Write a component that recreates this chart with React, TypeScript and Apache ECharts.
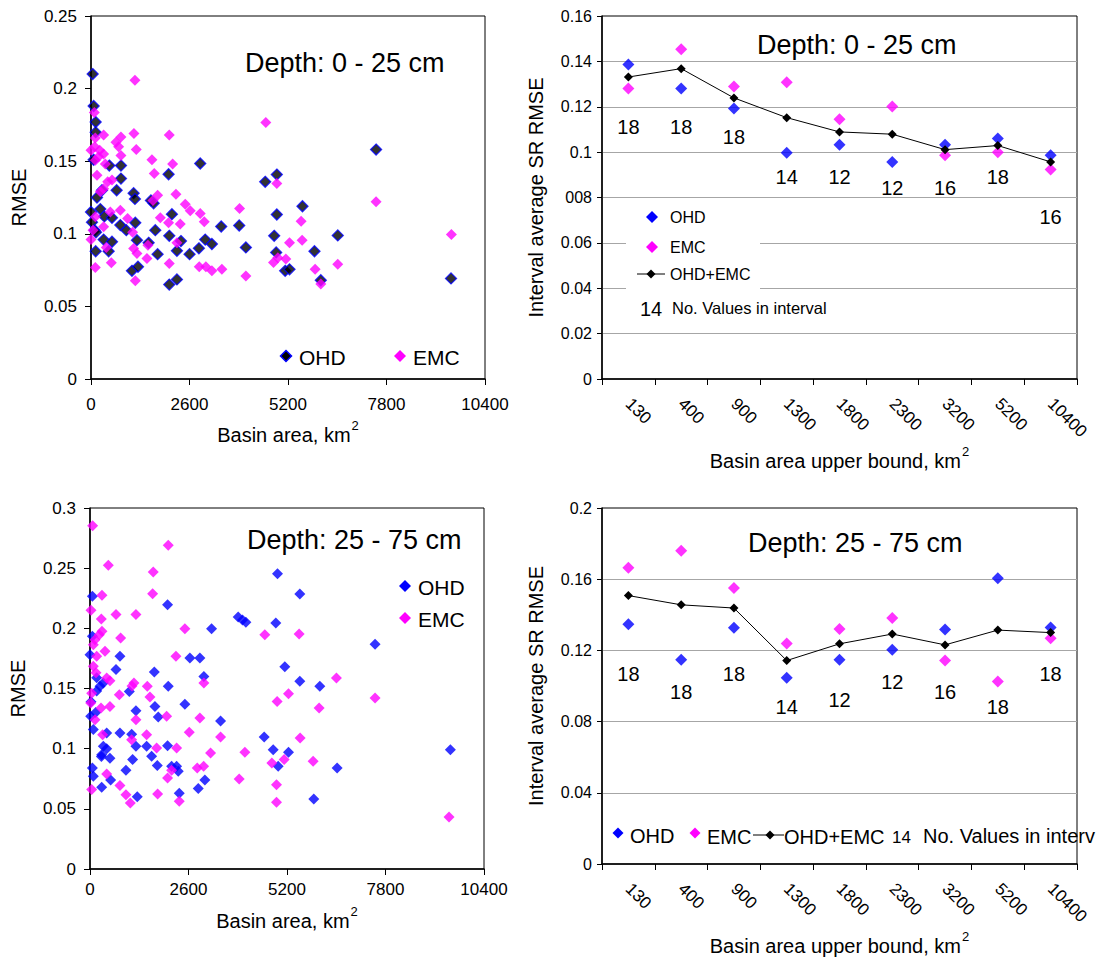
import React, { useEffect, useRef } from 'react';
import * as echarts from 'echarts';

const FONT = '"Liberation Sans", Arial, Helvetica, sans-serif';

// Depth 0 - 25 cm: basin area (km2) vs RMSE
const shallowOhd: [number, number][] = [
  [44, 0.21], [70, 0.188], [123, 0.177], [123, 0.17], [70, 0.151], [483, 0.147], [791, 0.147],
  [791, 0.138], [677, 0.13], [290, 0.13], [158, 0.125], [246, 0.117], [0, 0.115], [26, 0.108],
  [97, 0.1025], [352, 0.112], [554, 0.111], [132, 0.101], [334, 0.096], [554, 0.0945], [123, 0.088],
  [466, 0.088], [774, 0.106], [932, 0.1025], [1125, 0.128], [1160, 0.124], [1169, 0.1076],
  [1213, 0.0956], [1081, 0.0745], [1240, 0.0773], [1521, 0.0938], [1582, 0.123], [1653, 0.121],
  [1697, 0.1025], [1758, 0.086], [2048, 0.141], [2136, 0.1135], [2066, 0.0986], [2268, 0.0883],
  [2066, 0.065], [2268, 0.0686], [2374, 0.095], [2602, 0.086], [2848, 0.09], [2883, 0.1484],
  [3015, 0.096], [3191, 0.093], [3437, 0.105], [3912, 0.1057], [4088, 0.0906], [4598, 0.1358],
  [4835, 0.0986], [4905, 0.1408], [4905, 0.1133], [4888, 0.0872], [5125, 0.0745], [5240, 0.0755],
  [5582, 0.119], [5899, 0.088], [6066, 0.068], [6514, 0.0989], [7525, 0.158], [9503, 0.0693],
];

const shallowEmc: [number, number][] = [
  [1160, 0.2057], [88, 0.1835], [0, 0.1576], [114, 0.166], [334, 0.168], [97, 0.16], [229, 0.1576],
  [114, 0.1507], [200, 0.153], [334, 0.155], [158, 0.1404], [378, 0.148], [440, 0.1358], [554, 0.137],
  [334, 0.131], [730, 0.16], [791, 0.1667], [659, 0.163], [791, 0.154], [1134, 0.169], [1195, 0.158],
  [1609, 0.151], [1670, 0.1415], [2066, 0.168], [2154, 0.148], [1635, 0.123], [1758, 0.1266],
  [1829, 0.111], [2242, 0.1273], [2488, 0.1204], [2620, 0.1158], [2883, 0.114], [2989, 0.1083],
  [2048, 0.1076], [2356, 0.1067], [2268, 0.0938], [774, 0.1163], [967, 0.1106], [1099, 0.101],
  [510, 0.115], [246, 0.129], [334, 0.1048], [114, 0.1117], [53, 0.1025], [0, 0.0961], [404, 0.0906],
  [536, 0.08], [114, 0.0768], [1125, 0.0899], [1213, 0.0865], [1477, 0.083], [1503, 0.0922],
  [1169, 0.0677], [2066, 0.0796], [2857, 0.0773], [3033, 0.0773], [3191, 0.0745], [3454, 0.0755],
  [3921, 0.1174], [4088, 0.0709], [4615, 0.1766], [4905, 0.1346], [4817, 0.0803], [4932, 0.0835],
  [5143, 0.0826], [5240, 0.0938], [5547, 0.1087], [5573, 0.0956], [5916, 0.0755], [6066, 0.0654],
  [6514, 0.0791], [7525, 0.122], [9512, 0.0995],
];

// Depth 25 - 75 cm: basin area (km2) vs RMSE
const deepOhd: [number, number][] = [
  [62, 0.2266], [62, 0.1934], [0, 0.178], [26, 0.139], [150, 0.13], [176, 0.148], [264, 0.1518],
  [352, 0.1546], [176, 0.159], [18, 0.127], [88, 0.116], [440, 0.113], [352, 0.102], [308, 0.095],
  [300, 0.0935], [440, 0.1], [527, 0.092], [62, 0.084], [88, 0.077], [308, 0.068], [545, 0.074],
  [791, 0.1767], [686, 0.1657], [791, 0.113], [949, 0.082], [1037, 0.1476], [1100, 0.112],
  [1213, 0.1316], [1213, 0.102], [1125, 0.0909], [1248, 0.06], [1494, 0.102], [1626, 0.0936],
  [1697, 0.1637], [1714, 0.135], [1802, 0.1263], [1776, 0.086], [2048, 0.2197], [2066, 0.1518],
  [2048, 0.1025], [2154, 0.0853], [2286, 0.0853], [2330, 0.0812], [2356, 0.063], [2505, 0.137],
  [2637, 0.1753], [2901, 0.1753], [3006, 0.16], [2857, 0.067], [3033, 0.074], [3209, 0.1997],
  [3446, 0.123], [3912, 0.2094], [4026, 0.207], [4114, 0.205], [4598, 0.1097], [4835, 0.099],
  [4967, 0.0853], [5240, 0.097], [4905, 0.2044], [4949, 0.2454], [5143, 0.168], [5538, 0.2285],
  [5538, 0.156], [6066, 0.1518], [5907, 0.0582], [6523, 0.0839], [7525, 0.1867], [9512, 0.0992],
];

const deepEmc: [number, number][] = [
  [70, 0.2853], [484, 0.2524], [316, 0.2274], [26, 0.215], [299, 0.2078], [316, 0.1975], [246, 0.1947],
  [132, 0.1906], [88, 0.1864], [396, 0.1809], [176, 0.1767], [88, 0.1684], [158, 0.163], [440, 0.1587],
  [527, 0.1565], [44, 0.146], [18, 0.138], [290, 0.1338], [527, 0.135], [132, 0.124], [334, 0.1116],
  [809, 0.192], [686, 0.2114], [1213, 0.2114], [774, 0.1449], [1160, 0.1546], [1108, 0.152],
  [1213, 0.1241], [1099, 0.1075], [1670, 0.2468], [1653, 0.2288], [1512, 0.1518], [1582, 0.143],
  [1758, 0.1006], [2066, 0.269], [2022, 0.1269], [2268, 0.1767], [2505, 0.1997], [2286, 0.1006],
  [1494, 0.1116], [791, 0.0693], [949, 0.0618], [1064, 0.0548], [440, 0.079], [44, 0.066],
  [1785, 0.0623], [2048, 0.0756], [2154, 0.082], [2356, 0.0562], [2620, 0.1136], [2901, 0.1255],
  [3006, 0.1546], [2831, 0.084], [3000, 0.0853], [3182, 0.0964], [3446, 0.1097], [3938, 0.0748],
  [4088, 0.097], [4615, 0.1947], [4800, 0.0881], [4923, 0.07], [4923, 0.0554], [4940, 0.1393],
  [5125, 0.0909], [5240, 0.1457], [5520, 0.1953], [5547, 0.1089], [5890, 0.0895], [6048, 0.1338],
  [6505, 0.1587], [7525, 0.1421], [9477, 0.0432],
];

// Interval averages by basin-area upper bound
const areaBounds = ['130', '400', '900', '1300', '1800', '2300', '3200', '5200', '10400'];

const shallowIntervalOhd = [0.1386, 0.128, 0.1192, 0.0997, 0.1033, 0.0956, 0.1033, 0.106, 0.0986];
const shallowIntervalEmc = [0.128, 0.1453, 0.1289, 0.1308, 0.1145, 0.1201, 0.0986, 0.1, 0.0923];
const shallowIntervalAll = [0.1331, 0.1368, 0.1239, 0.1152, 0.1089, 0.1079, 0.1011, 0.1029, 0.0957];
const shallowCounts = [18, 18, 18, 14, 12, 12, 16, 18, 16];
const shallowCountLabelY = [0.111, 0.111, 0.1067, 0.089, 0.089, 0.0844, 0.0844, 0.089, 0.0715];

const deepIntervalOhd = [0.1347, 0.1148, 0.1327, 0.1047, 0.1148, 0.1204, 0.1318, 0.1606, 0.1329];
const deepIntervalEmc = [0.1665, 0.176, 0.155, 0.1239, 0.132, 0.1382, 0.1143, 0.1025, 0.1268];
const deepIntervalAll = [0.1508, 0.1456, 0.1438, 0.1143, 0.1237, 0.1292, 0.1231, 0.1314, 0.13];
const deepCounts = [18, 18, 18, 14, 12, 12, 16, 18, 18];
const deepCountLabelY = [0.1069, 0.0964, 0.1069, 0.0881, 0.0922, 0.1025, 0.0964, 0.0881, 0.1069];

// Tick labels of the upper-right chart's value axis, as printed
const shallowIntervalYTicks = ['0', '0.02', '0.04', '0.06', '008', '0.1', '0.12', '0.14', '0.16'];

const BLUE = '#0000ff';
const MAGENTA = '#ff00ff';
const BLACK = '#000000';
const GRID_GRAY = '#a6a6a6';

const txt = (size: number) => ({ color: BLACK, fontFamily: FONT, fontSize: size });

const axisNameRich = (size: number) => ({
  ...txt(size),
  rich: {
    b: { ...txt(size), lineHeight: size + 6, verticalAlign: 'bottom' },
    s: { ...txt(13), lineHeight: size + 6, verticalAlign: 'top', padding: [0, 0, 0, 1] },
  },
});

const areaAxis = (gridIndex: number, labelMargin: number, nameGap: number) => ({
  type: 'value',
  gridIndex,
  min: 0,
  max: 10400,
  interval: 2600,
  axisLine: { show: true, onZero: false, lineStyle: { color: BLACK, width: 1.5 } },
  axisTick: { show: true, length: 6, lineStyle: { color: BLACK, width: 1 } },
  axisLabel: { ...txt(17), margin: labelMargin, formatter: (v: number) => String(v) },
  splitLine: { show: false },
  name: '{b|Basin area, km}{s|2}',
  nameLocation: 'middle',
  nameGap,
  nameTextStyle: axisNameRich(20),
});

const boundAxis = (gridIndex: number) => ({
  type: 'category',
  gridIndex,
  data: areaBounds,
  boundaryGap: true,
  axisLine: { show: true, onZero: false, lineStyle: { color: BLACK, width: 1.5 } },
  axisTick: { show: true, length: 6, interval: 0, alignWithLabel: false, lineStyle: { color: BLACK } },
  axisLabel: { ...txt(17), interval: 0, rotate: -45, margin: 22 },
  splitLine: { show: false },
  name: '{b|Basin area upper bound, km}{s|2}',
  nameLocation: 'middle',
  nameGap: 66,
  nameTextStyle: axisNameRich(20),
});

const rmseAxis = (gridIndex: number, max: number, interval: number) => ({
  type: 'value',
  gridIndex,
  min: 0,
  max,
  interval,
  axisLine: { show: true, onZero: false, lineStyle: { color: BLACK, width: 1.5 } },
  axisTick: { show: true, length: 6, lineStyle: { color: BLACK } },
  axisLabel: { ...txt(17), margin: 14 },
  splitLine: { show: false },
  name: 'RMSE',
  nameLocation: 'middle',
  nameGap: 62,
  nameTextStyle: txt(20),
});

const intervalAxis = (gridIndex: number, max: number, interval: number, formatter?: (v: number) => string) => ({
  type: 'value',
  gridIndex,
  min: 0,
  max,
  interval,
  axisLine: { show: true, onZero: false, lineStyle: { color: BLACK, width: 1.5 } },
  axisTick: { show: true, length: 5, lineStyle: { color: BLACK } },
  axisLabel: { ...txt(16), margin: 10, ...(formatter ? { formatter } : {}) },
  splitLine: { show: true, showMinLine: false, showMaxLine: false, lineStyle: { color: GRID_GRAY, width: 1 } },
  name: 'Interval average SR RMSE',
  nameLocation: 'middle',
  nameGap: 56,
  nameTextStyle: txt(20),
});

const scatter = (name: string, data: [number, number][], axis: number, itemStyle: object, size = 11) => ({
  name,
  type: 'scatter',
  xAxisIndex: axis,
  yAxisIndex: axis,
  data,
  symbol: 'diamond',
  symbolSize: size,
  itemStyle,
  silent: true,
});

const intervalSeries = (
  axis: number,
  ohd: number[],
  emc: number[],
  all: number[],
  counts: number[],
  countY: number[],
) => [
  {
    name: 'OHD',
    type: 'scatter',
    xAxisIndex: axis,
    yAxisIndex: axis,
    data: ohd,
    symbol: 'diamond',
    symbolSize: 12,
    itemStyle: { color: BLUE },
  },
  {
    name: 'EMC',
    type: 'scatter',
    xAxisIndex: axis,
    yAxisIndex: axis,
    data: emc,
    symbol: 'diamond',
    symbolSize: 12,
    itemStyle: { color: MAGENTA },
  },
  {
    name: 'OHD+EMC',
    type: 'line',
    xAxisIndex: axis,
    yAxisIndex: axis,
    data: all,
    symbol: 'diamond',
    symbolSize: 9,
    showSymbol: true,
    itemStyle: { color: BLACK },
    lineStyle: { color: BLACK, width: 1 },
  },
  {
    name: 'No. Values in interval',
    type: 'scatter',
    xAxisIndex: axis,
    yAxisIndex: axis,
    data: areaBounds.map((c, i) => [c, countY[i], counts[i]]),
    symbolSize: 1,
    itemStyle: { opacity: 0 },
    label: {
      show: true,
      position: 'inside',
      formatter: (p: any) => String(p.value[2]),
      ...txt(20),
      opacity: 1,
      textBorderWidth: 0,
    },
    silent: true,
  },
];

// Legend pieces drawn with graphic primitives
const diamond = (cx: number, cy: number, r: number, fill: string, stroke?: string) => ({
  type: 'polygon',
  z: 10,
  shape: { points: [[cx, cy - r], [cx + r, cy], [cx, cy + r], [cx - r, cy]] },
  style: { fill, stroke: stroke || fill, lineWidth: stroke ? 1.5 : 0 },
});

const label = (x: number, y: number, text: string, size: number) => ({
  type: 'text',
  z: 10,
  x,
  y,
  style: { text, fontSize: size, fontFamily: FONT, fill: BLACK, align: 'left', verticalAlign: 'middle' },
});

const lineIcon = (x1: number, x2: number, y: number) => ({
  type: 'line',
  z: 10,
  shape: { x1, y1: y, x2, y2: y },
  style: { stroke: BLACK, lineWidth: 1 },
});

export default function App() {
  const ref = useRef<HTMLDivElement>(null);

  useEffect(() => {
    if (!ref.current) return;
    const chart = echarts.init(ref.current, undefined, { renderer: 'svg' });

    const gridBase = { show: true, borderColor: BLACK, borderWidth: 1, backgroundColor: 'transparent', containLabel: false };

    chart.setOption({
      animation: false,
      backgroundColor: '#ffffff',
      textStyle: { fontFamily: FONT },
      grid: [
        { ...gridBase, left: 91, top: 16, width: 394, height: 363 },
        { ...gridBase, left: 602, top: 16, width: 475, height: 363 },
        { ...gridBase, left: 90, top: 508, width: 394, height: 361 },
        { ...gridBase, left: 602, top: 508, width: 475, height: 361 },
      ],
      xAxis: [areaAxis(0, 17, 40), boundAxis(1), areaAxis(2, 12, 36), boundAxis(3)],
      yAxis: [
        rmseAxis(0, 0.25, 0.05),
        intervalAxis(1, 0.16, 0.02, (v: number) => shallowIntervalYTicks[Math.round(v / 0.02)]),
        rmseAxis(2, 0.3, 0.05),
        intervalAxis(3, 0.2, 0.04),
      ],
      series: [
        scatter('OHD', shallowOhd, 0, { color: BLACK, borderColor: BLUE, borderWidth: 1.3 }, 11),
        scatter('EMC', shallowEmc, 0, { color: MAGENTA }, 11),
        ...intervalSeries(1, shallowIntervalOhd, shallowIntervalEmc, shallowIntervalAll, shallowCounts, shallowCountLabelY),
        scatter('OHD', deepOhd, 2, { color: BLUE }, 11),
        scatter('EMC', deepEmc, 2, { color: MAGENTA }, 11),
        ...intervalSeries(3, deepIntervalOhd, deepIntervalEmc, deepIntervalAll, deepCounts, deepCountLabelY),
      ],
      graphic: [
        // chart headings
        label(245, 63, 'Depth: 0 - 25 cm', 27),
        label(757, 45, 'Depth: 0 - 25 cm', 27),
        label(247, 540, 'Depth: 25 - 75 cm', 27),
        label(748, 543, 'Depth: 25 - 75 cm', 27),

        // upper-left legend
        diamond(286, 356, 5.5, BLACK, BLUE),
        label(299, 357, 'OHD', 21),
        diamond(400, 356, 6, MAGENTA),
        label(413, 357, 'EMC', 21),

        // upper-right legend on a white box
        { type: 'rect', z: 1, shape: { x: 626, y: 204, width: 134, height: 89 }, style: { fill: '#ffffff' } },
        diamond(652, 217, 6, BLUE),
        label(670, 217, 'OHD', 16),
        diamond(652, 247, 6, MAGENTA),
        label(670, 247, 'EMC', 16),
        lineIcon(637, 665, 274),
        diamond(651, 274, 4.5, BLACK),
        label(670, 274, 'OHD+EMC', 16),
        label(640, 309, '14', 20),
        label(672, 308, 'No. Values in interval', 16.5),

        // lower-left legend
        diamond(405, 586, 6, BLUE),
        label(418, 587, 'OHD', 21),
        diamond(405, 618, 6, MAGENTA),
        label(418, 619, 'EMC', 21),

        // lower-right legend, one row running to the right edge
        diamond(618, 833, 5.5, BLUE),
        label(630, 836, 'OHD', 20),
        diamond(695, 833, 5.5, MAGENTA),
        label(707, 837, 'EMC', 20),
        lineIcon(753, 784, 835),
        diamond(770, 835, 4.5, BLACK),
        label(784, 837, 'OHD+EMC', 20),
        label(892, 837, '14', 17),
        label(923, 836, 'No. Values in interv', 20),
      ],
    });

    return () => chart.dispose();
  }, []);

  return (
    <div
      ref={ref}
      style={{ position: 'absolute', left: 0, top: 0, width: 1102, height: 957, background: '#ffffff' }}
    />
  );
}
